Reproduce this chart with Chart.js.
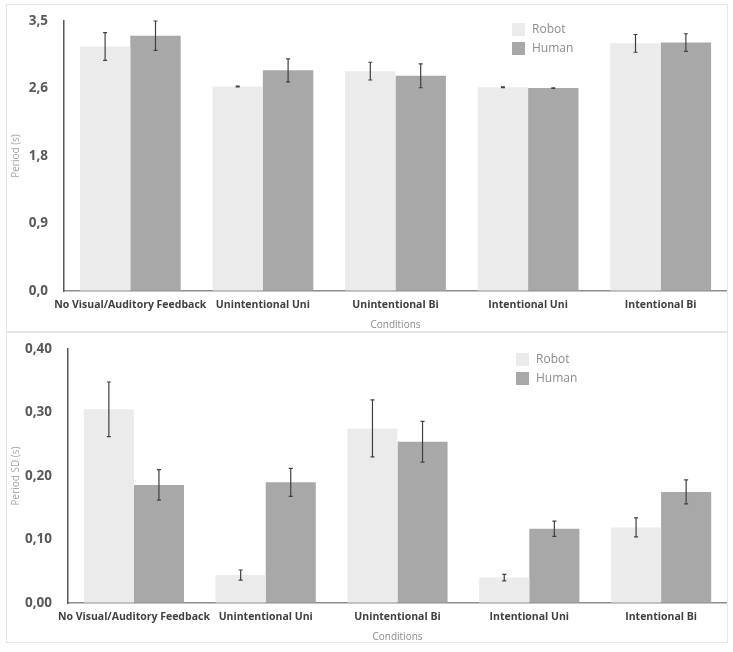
<!DOCTYPE html>
<html>
<head>
<meta charset="utf-8">
<script src="https://cdn.jsdelivr.net/npm/chart.js@4.4.1/dist/chart.umd.min.js"></script>
<style>
  body { margin: 0; background: #fff; }
  .panel { position: absolute; left: 6px; width: 720px; border: 1px solid #e6e6e6; }
  #topPanel { top: 4px; height: 327px; }
  #bottomPanel { top: 331px; height: 310px; }
  canvas { display: block; }
</style>
</head>
<body>
<div class="panel" id="topPanel"><canvas id="periodChart" width="720" height="327"></canvas></div>
<div class="panel" id="bottomPanel"><canvas id="sdChart" width="720" height="310"></canvas></div>
<script>
// Data
const categories = ['No Visual/Auditory Feedback', 'Unintentional Uni', 'Unintentional Bi', 'Intentional Uni', 'Intentional Bi'];

const periodRobot = [3.17, 2.65, 2.85, 2.64, 3.21];
const periodRobotErr = [0.18, 0.005, 0.115, 0.005, 0.115];
const periodHuman = [3.31, 2.86, 2.79, 2.63, 3.22];
const periodHumanErr = [0.19, 0.15, 0.155, 0.005, 0.115];
const periodTicks = [0, 0.875, 1.75, 2.625, 3.5];
const periodTickLabels = ['0,0', '0,9', '1,8', '2,6', '3,5'];

const sdRobot = [0.305, 0.044, 0.275, 0.040, 0.119];
const sdRobotErr = [0.043, 0.008, 0.045, 0.005, 0.015];
const sdHuman = [0.186, 0.190, 0.254, 0.117, 0.175];
const sdHumanErr = [0.024, 0.022, 0.032, 0.012, 0.019];
const sdTicks = [0, 0.1, 0.2, 0.3, 0.4];
const sdTickLabels = ['0,00', '0,10', '0,20', '0,30', '0,40'];

Chart.defaults.font.family = "'Open Sans', sans-serif";

// whiskers drawn on top of each bar
const errorBars = {
    id: 'errorBars',
    afterDatasetsDraw(chart, args, opts) {
        const ctx = chart.ctx;
        const yScale = chart.scales.y;
        ctx.save();
        ctx.strokeStyle = opts.color;
        ctx.lineWidth = opts.width;
        chart.data.datasets.forEach((ds, i) => {
            chart.getDatasetMeta(i).data.forEach((bar, j) => {
                const hi = yScale.getPixelForValue(ds.data[j] + ds.errors[j]);
                const lo = yScale.getPixelForValue(ds.data[j] - ds.errors[j]);
                const x = bar.x;
                ctx.beginPath();
                ctx.moveTo(x, hi); ctx.lineTo(x, lo);
                ctx.moveTo(x - opts.cap, hi); ctx.lineTo(x + opts.cap, hi);
                ctx.moveTo(x - opts.cap, lo); ctx.lineTo(x + opts.cap, lo);
                ctx.stroke();
            });
        });
        ctx.restore();
    }
};

// vertical legend inside the plot
const boxLegend = {
    id: 'boxLegend',
    afterDraw(chart, args, opts) {
        const ctx = chart.ctx;
        ctx.save();
        ctx.font = opts.font;
        ctx.textBaseline = 'middle';
        chart.data.datasets.forEach((ds, i) => {
            const y = opts.y + i * opts.rowGap;
            ctx.fillStyle = ds.backgroundColor;
            ctx.fillRect(opts.x, y, opts.box, opts.box);
            ctx.fillStyle = opts.color;
            ctx.fillText(ds.label, opts.x + opts.box + opts.gap, y + opts.box / 2);
        });
        ctx.restore();
    }
};

function makeChart(id, robot, robotErr, human, humanErr, ticks, tickLabels, yTitle, cfg) {
    const ctx = document.getElementById(id).getContext('2d');
    return new Chart(ctx, {
        type: 'bar',
        data: {
            labels: categories,
            datasets: [{
                label: 'Robot',
                data: robot,
                errors: robotErr,
                backgroundColor: '#ebebeb',
                categoryPercentage: 0.76,
                barPercentage: 1.0
            }, {
                label: 'Human',
                data: human,
                errors: humanErr,
                backgroundColor: '#a8a8a8',
                categoryPercentage: 0.76,
                barPercentage: 1.0
            }]
        },
        options: {
            responsive: false,
            animation: false,
            layout: { padding: { top: cfg.padTop, right: 0, bottom: 0, left: 0 } },
            scales: {
                x: {
                    grid: { display: false, drawTicks: false },
                    border: { color: '#8c8c8c', width: 1.5 },
                    ticks: {
                        padding: 8,
                        maxRotation: 0,
                        autoSkip: false,
                        color: '#404040',
                        font: { size: 10.5, weight: 'bold' }
                    },
                    title: {
                        display: true,
                        text: 'Conditions',
                        color: '#8c8c8c',
                        font: { size: 10, lineHeight: 1 },
                        padding: { top: 0, bottom: cfg.titleBottom }
                    },
                    afterFit: function(scale) { scale.height = cfg.xHeight; }
                },
                y: {
                    min: ticks[0],
                    max: ticks[ticks.length - 1],
                    // invisible tick marks give the gap between labels and axis
                    grid: { drawOnChartArea: false, drawTicks: true, tickLength: 16, color: 'rgba(0,0,0,0)' },
                    border: { color: '#595959', width: 1.5 },
                    afterBuildTicks: function(scale) {
                        scale.ticks = ticks.map(v => ({ value: v }));
                    },
                    ticks: {
                        padding: 0,
                        color: '#595959',
                        font: { size: 13.5, weight: 'bold' },
                        callback: function(value, index) { return tickLabels[index]; }
                    },
                    title: {
                        display: true,
                        text: yTitle,
                        color: '#a6a6a6',
                        font: { size: 10 },
                        padding: { top: 3, bottom: 0 }
                    },
                    afterFit: function(scale) { scale.width = cfg.yWidth; }
                }
            },
            plugins: {
                legend: { display: false },
                tooltip: { enabled: false },
                errorBars: { color: '#404040', width: 1.2, cap: 2 },
                boxLegend: {
                    x: cfg.legendX, y: cfg.legendY, box: 13, rowGap: 19, gap: 7,
                    color: '#8c8c8c', font: "12px 'Open Sans', sans-serif"
                }
            }
        },
        plugins: [errorBars, boxLegend]
    });
}

document.addEventListener('DOMContentLoaded', function() {
    makeChart('periodChart', periodRobot, periodRobotErr, periodHuman, periodHumanErr,
        periodTicks, periodTickLabels, 'Period (s)',
        { padTop: 16, yWidth: 57, xHeight: 41, titleBottom: 2, legendX: 505, legendY: 18 });

    makeChart('sdChart', sdRobot, sdRobotErr, sdHuman, sdHumanErr,
        sdTicks, sdTickLabels, 'Period SD (s)',
        { padTop: 17, yWidth: 61, xHeight: 39, titleBottom: 0, legendX: 509, legendY: 21 });
});
</script>
</body>
</html>
